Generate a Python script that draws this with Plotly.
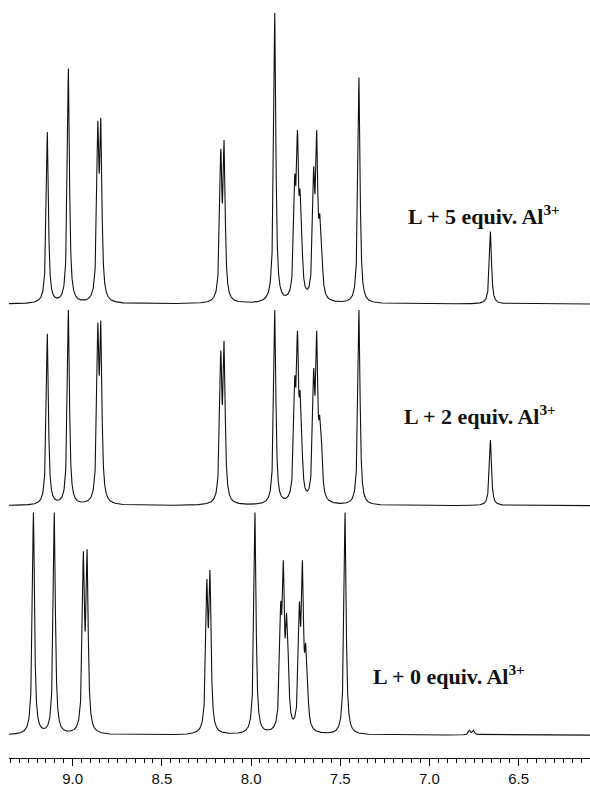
import numpy as np
import plotly.graph_objects as go

# ---- data (chemical shift in ppm, apparent peak heights) ----
labels = ["L + 5 equiv. Al<sup>3+</sup>", "L + 2 equiv. Al<sup>3+</sup>", "L + 0 equiv. Al<sup>3+</sup>"]

ppm_5eq = [9.142, 9.024, 8.859, 8.842, 8.170, 8.151, 7.867, 7.755, 7.740, 7.725, 7.717,
           7.649, 7.632, 7.615, 7.605, 7.395, 6.658]
int_5eq = [173, 237, 184, 187, 156, 165, 293, 130, 175, 116, 80, 138, 175, 91, 65, 228, 73]

ppm_2eq = [9.142, 9.024, 8.859, 8.842, 8.170, 8.151, 7.867, 7.755, 7.740, 7.725, 7.717,
           7.649, 7.632, 7.615, 7.605, 7.395, 6.658]
int_2eq = [173, 197, 184, 186, 156, 166, 197, 130, 176, 116, 80, 138, 176, 91, 65, 197, 66]

ppm_0eq = [9.220, 9.103, 8.940, 8.919, 8.248, 8.230, 7.978, 7.834, 7.819, 7.801, 7.793,
           7.729, 7.712, 7.694, 7.686, 7.473, 6.776, 6.753]
int_0eq = [224, 224, 185, 187, 157, 166, 224, 134, 176, 123, 90, 134, 176, 93, 70, 224, 5, 5]

offsets = [457, 254, 23]          # vertical stacking offsets of the three spectra
tick_vals = [9.0, 8.5, 8.0, 7.5, 7.0, 6.5]
tick_text = ["9.0", "8.5", "8.0", "7.5", "7.0", "6.5"]
label_pos = [(7.131, 547), (7.155, 345), (7.329, 84)]

X_RANGE = [9.357, 6.10]
GAMMA = 0.007  # Lorentzian half width (ppm)


def lor(d):
    return 1.0 / (1.0 + (d / GAMMA) ** 2)


def spectrum(x, pos, heights):
    pos = np.asarray(pos, float)
    h = np.asarray(heights, float)
    A = lor(pos[:, None] - pos[None, :])
    amp = np.linalg.solve(A, h)
    return (amp[None, :] * lor(x[:, None] - pos[None, :])).sum(axis=1)


x = np.arange(6.10, 9.3575, 0.0005)

fig = go.Figure()
for pos, hts, off in [(ppm_5eq, int_5eq, offsets[0]),
                      (ppm_2eq, int_2eq, offsets[1]),
                      (ppm_0eq, int_0eq, offsets[2])]:
    y = off + spectrum(x, pos, hts)
    fig.add_trace(go.Scatter(x=x, y=y, mode="lines",
                             line=dict(color="#111111", width=1.1),
                             hoverinfo="skip", showlegend=False))

for txt, (lx, ly) in zip(labels, label_pos):
    fig.add_annotation(x=lx, y=ly, xref="x", yref="y", text="<b>" + txt + "</b>",
                       showarrow=False, xanchor="left", yanchor="middle",
                       font=dict(family="Liberation Serif", size=22, color="#111111"))

fig.update_layout(
    width=590, height=787,
    margin=dict(l=9, r=0, t=0, b=24),
    paper_bgcolor="white", plot_bgcolor="white",
    xaxis=dict(range=X_RANGE, showgrid=False, zeroline=False,
               showline=True, linecolor="#111111", linewidth=1,
               ticks="outside", ticklen=7, tickcolor="#111111", tickwidth=1,
               tickvals=tick_vals, ticktext=tick_text,
               tickfont=dict(family="Liberation Sans", size=15, color="#111111"),
               minor=dict(dtick=0.05, tick0=6.5, ticks="outside", ticklen=4,
                          tickcolor="#111111", tickwidth=1, showgrid=False)),
    yaxis=dict(range=[0, 763], visible=False, showgrid=False, zeroline=False),
)

fig.write_html("out.html")
